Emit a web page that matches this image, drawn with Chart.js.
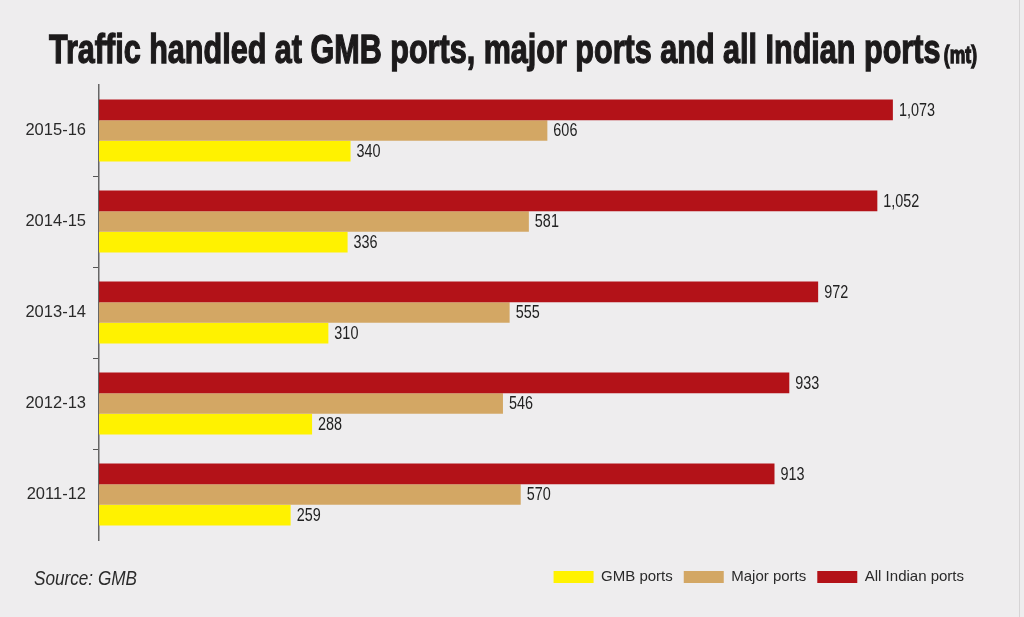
<!DOCTYPE html>
<html>
<head>
<meta charset="utf-8">
<script src="https://cdn.jsdelivr.net/npm/chart.js@4.4.1/dist/chart.umd.min.js"></script>
<style>
  html, body { margin:0; padding:0; background:#eeedee; }
  #wrap { position:relative; width:1024px; height:617px; overflow:hidden; background:#eeedee; }
  #titleInner { position:absolute; left:49px; top:27px; transform-origin:0 0; white-space:nowrap;
    font-family:"Liberation Sans",sans-serif; font-weight:bold; color:#1c1a1b;
    -webkit-text-stroke:1.3px #1c1a1b; }
  #titleInner .main { font-size:40px; }
  #titleInner .unit { font-size:23px; }
  #source { position:absolute; left:34px; top:566px; transform-origin:0 0; white-space:nowrap;
    font-family:"Liberation Sans",sans-serif; font-style:italic; font-size:21px; color:#2a2a2a; }
  #edge { position:absolute; left:1019px; top:0; width:1px; height:617px; background:#d6d4d5; }
  canvas { position:absolute; left:0; top:0; }
</style>
</head>
<body>
<div id="wrap">
  <canvas id="c" width="1024" height="617"></canvas>
  <div id="titleInner"><span class="main">Traffic handled at GMB ports, major ports and all Indian ports</span>&nbsp;<span class="unit">(mt)</span></div>
  <div id="source">Source: GMB</div>
  <div id="edge"></div>
</div>
<script>
const years = ['2011-12', '2012-13', '2013-14', '2014-15', '2015-16'];
const gmbPorts = [259, 288, 310, 336, 340];
const majorPorts = [570, 546, 555, 581, 606];
const allIndianPorts = [913, 933, 972, 1052, 1073];

function fitWidth(id, target) {
  const el = document.getElementById(id);
  const w = el.getBoundingClientRect().width;
  el.style.transform = 'scaleX(' + (target / w) + ')';
}
fitWidth('titleInner', 977 - 49);
fitWidth('source', 103);

const FONT = '"Liberation Sans", Arial, sans-serif';

const valueLabels = {
  id: 'valueLabels',
  afterDatasetsDraw(chart) {
    const ctx = chart.ctx;
    const sx = 0.8;
    ctx.save();
    ctx.font = '18px ' + FONT;
    ctx.fillStyle = '#222';
    ctx.textAlign = 'left';
    ctx.textBaseline = 'middle';
    chart.data.datasets.forEach((ds, di) => {
      const meta = chart.getDatasetMeta(di);
      meta.data.forEach((bar, i) => {
        const v = ds.data[i];
        ctx.save();
        ctx.translate(bar.x + 6, bar.y + 1);
        ctx.scale(sx, 1);
        ctx.fillText(v.toLocaleString('en-US'), 0, 0);
        ctx.restore();
      });
    });
    ctx.restore();
  }
};

const hideEnds = (ctx) =>
  (ctx.type !== 'tick' || ctx.index === undefined || ctx.index === 0 || ctx.index >= years.length)
    ? 'rgba(0,0,0,0)' : '#555';

new Chart(document.getElementById('c'), {
  type: 'bar',
  data: {
    labels: years,
    datasets: [
      { label: 'All Indian ports', data: allIndianPorts, backgroundColor: '#b31218' },
      { label: 'Major ports', data: majorPorts, backgroundColor: '#d3a764' },
      { label: 'GMB ports', data: gmbPorts, backgroundColor: '#fff200' }
    ]
  },
  options: {
    indexAxis: 'y',
    responsive: false,
    animation: false,
    devicePixelRatio: 1,
    barPercentage: 1,
    categoryPercentage: 0.68,
    layout: { padding: { top: 85, left: 0, right: 49, bottom: 22.5 } },
    scales: {
      x: {
        min: 0, max: 1184,
        display: true,
        ticks: { display: false },
        grid: { display: false },
        border: { display: false },
        afterFit(s) { s.height = 18.5; }
      },
      y: {
        reverse: true,
        afterFit(s) { s.width = 99; },
        ticks: { font: { family: FONT, size: 16.5 }, color: '#2a2a2a', padding: 7 },
        grid: {
          offset: true,
          drawOnChartArea: false,
          tickLength: 6,
          lineWidth: 1,
          color: hideEnds,
          tickColor: hideEnds
        },
        border: { display: true, color: '#666', width: 1.5 }
      }
    },
    plugins: {
      legend: {
        position: 'bottom',
        align: 'end',
        reverse: true,
        labels: {
          boxWidth: 40, boxHeight: 12, padding: 11,
          font: { family: FONT, size: 15 }, color: '#2a2a2a'
        }
      },
      tooltip: { enabled: false },
      title: { display: false }
    }
  },
  plugins: [valueLabels]
});
</script>
</body>
</html>
